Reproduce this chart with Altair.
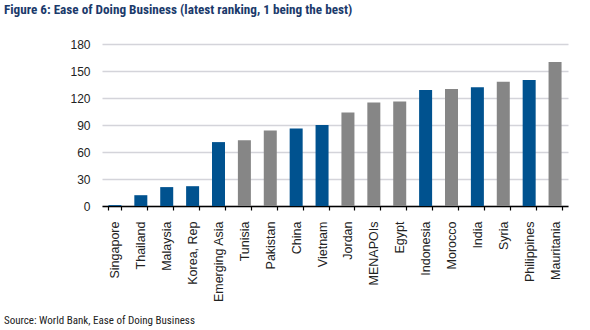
import altair as alt
import pandas as pd

countries = ["Singapore", "Thailand", "Malaysia", "Korea, Rep", "Emerging Asia", "Tunisia",
             "Pakistan", "China", "Vietnam", "Jordan", "MENAPOIs", "Egypt", "Indonesia",
             "Morocco", "India", "Syria", "Philippines", "Mauritania"]
ranking = [1, 12, 21, 22, 71, 73, 84, 86, 90, 104, 115, 116, 129, 130, 132, 138, 140, 160]
group = ["Asia", "Asia", "Asia", "Asia", "Asia", "MENA", "MENA", "Asia", "Asia", "MENA",
         "MENA", "MENA", "Asia", "MENA", "Asia", "MENA", "Asia", "MENA"]
y_ticks = [0, 30, 60, 90, 120, 150, 180]

title_text = "Figure 6: Ease of Doing Business (latest ranking, 1 being the best)"
source_text = "Source: World Bank, Ease of Doing Business"

df = pd.DataFrame({"country": countries, "rank": ranking, "group": group})

narrow = "Liberation Sans Narrow, Arial Narrow, Roboto Condensed, sans-serif"
sans = "Liberation Sans, Arial, sans-serif"

bars = alt.Chart(df).mark_bar(size=13).encode(
    x=alt.X("country:N", sort=countries, title=None,
            axis=alt.Axis(labelAngle=-90, labelFont=sans, labelFontSize=12.5,
                          labelColor="#222222", labelPadding=11, tickBand="extent",
                          tickColor="#000000", tickSize=4, tickWidth=1.2,
                          domainColor="#000000", domainWidth=1.5, grid=False,
                          labelBaseline="middle", labelAlign="right")),
    y=alt.Y("rank:Q", title=None, scale=alt.Scale(domain=[0, 180], nice=False),
            axis=alt.Axis(values=y_ticks, labelFont=sans, labelFontSize=12,
                          labelColor="#222222", labelPadding=12, ticks=False,
                          domain=False, gridColor="#D4D4DA", gridWidth=1.5)),
    color=alt.Color("group:N", scale=alt.Scale(domain=["Asia", "MENA"],
                                               range=["#00528F", "#868686"]),
                    legend=None),
)

title = alt.Chart(pd.DataFrame({"t": [title_text]})).mark_text(
    font=narrow, fontSize=13.2, fontWeight="bold", color="#1B3A6B",
    align="left", baseline="middle"
).encode(text="t:N", x=alt.value(-98), y=alt.value(-34))

source = alt.Chart(pd.DataFrame({"t": [source_text]})).mark_text(
    font=narrow, fontSize=11, color="#222222", align="left", baseline="middle"
).encode(text="t:N", x=alt.value(-98), y=alt.value(277))

chart = alt.layer(bars, title, source).properties(
    width=466, height=162,
    autosize=alt.AutoSizeParams(type="none"),
    padding={"left": 102, "top": 44, "right": 22, "bottom": 124},
).configure_view(stroke=None).configure_scale(bandPaddingInner=0.5, bandPaddingOuter=0.25)

chart.save("out.html", embed_options={"renderer": "svg", "actions": False})
